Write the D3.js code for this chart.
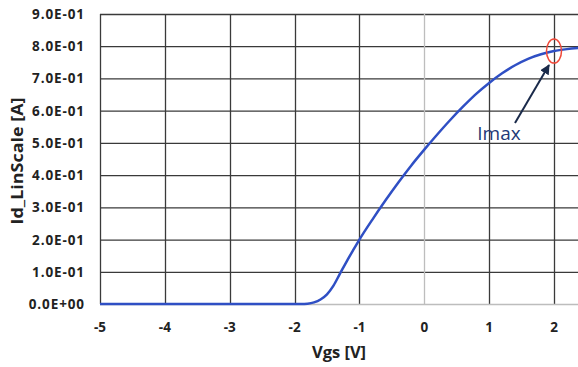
<!DOCTYPE html>
<html><head><meta charset="utf-8">
<script src="https://cdn.jsdelivr.net/npm/d3@7"></script>
<style>
html,body{margin:0;padding:0;background:#fff;overflow:hidden}
text{font-family:"Open Sans","Liberation Sans",sans-serif}
</style></head>
<body><svg id="c" width="578" height="367"></svg>
<script>
const vgs = [-5,-4,-3,-2,-1.9,-1.8,-1.7,-1.6,-1.5,-1.4,-1.3,-1.2,-1.1,-1.0,-0.8,-0.6,-0.4,-0.2,0,0.2,0.4,0.6,0.8,1.0,1.2,1.4,1.6,1.8,2.0,2.2,2.4];
const id  = [0,0,0,0,0,0.001,0.005,0.014,0.03,0.057,0.094,0.131,0.166,0.2,0.262,0.321,0.377,0.43,0.479,0.526,0.571,0.613,0.652,0.686,0.716,0.741,0.761,0.775,0.785,0.791,0.795];
const xTicks = [-5,-4,-3,-2,-1,0,1,2];
const yTicks = [0,0.1,0.2,0.3,0.4,0.5,0.6,0.7,0.8,0.9];
const imax = {x:2.0, y:0.785, label:"Imax"};

const svg = d3.select("#c");
const L=100, T=14, B=304;
const x = d3.scaleLinear().domain([-5,2]).range([L,554]);
const y = d3.scaleLinear().domain([0,0.9]).range([B,T]);
const R = 578;
const fmt = v => v.toExponential(1).toUpperCase().replace(/E([+-])(\d)$/,"E$10$2");

const g = svg.append("g");
g.selectAll(".hg").data(yTicks.filter(v=>v>0)).join("line")
 .attr("x1",L).attr("x2",R).attr("y1",d=>y(d)+0.5).attr("y2",d=>y(d)+0.5)
 .attr("stroke","#3a3a3a").attr("stroke-width",1.3);
g.selectAll(".vg").data(xTicks).join("line")
 .attr("x1",d=>Math.round(x(d))+0.5).attr("x2",d=>Math.round(x(d))+0.5).attr("y1",T).attr("y2",B)
 .attr("stroke",d=>d===0?"#bdbdbd":"#3a3a3a").attr("stroke-width",1.3);
g.append("line").attr("x1",L).attr("x2",R).attr("y1",B+0.5).attr("y2",B+0.5)
 .attr("stroke","#bdbdbd").attr("stroke-width",1.3);

g.selectAll(".yl").data(yTicks).join("text")
 .attr("x",85).attr("y",d=>y(d)+5).attr("text-anchor","end")
 .attr("font-size",13.5).attr("letter-spacing",0.9).attr("font-weight","bold").attr("fill","#222").text(fmt);
g.selectAll(".xl").data(xTicks).join("text")
 .attr("x",d=>x(d)).attr("y",332).attr("text-anchor","middle")
 .attr("font-size",13.5).attr("font-weight","bold").attr("fill","#222").text(d=>d);

svg.append("text").attr("x",339).attr("y",358).attr("text-anchor","middle")
 .attr("font-size",16.5).attr("font-weight","bold").attr("fill","#222").text("Vgs [V]");
svg.append("text").attr("transform","translate(23,161) rotate(-90)").attr("text-anchor","middle")
 .attr("font-size",15.5).attr("textLength",127).attr("lengthAdjust","spacingAndGlyphs")
 .attr("font-weight","bold").attr("fill","#222").text("Id_LinScale [A]");

const line = d3.line().x((d,i)=>x(vgs[i])).y(d=>y(d)).curve(d3.curveMonotoneX);
svg.append("path").datum(id).attr("d",line).attr("fill","none")
 .attr("stroke","#2f4fc4").attr("stroke-width",2.5);

svg.append("ellipse").attr("cx",x(imax.x)).attr("cy",y(imax.y)).attr("rx",7.5).attr("ry",12)
 .attr("fill","none").attr("stroke","#f04a3a").attr("stroke-width",1.5);
svg.append("defs").append("marker").attr("id","ah").attr("viewBox","0 0 10 10")
 .attr("refX",9).attr("refY",5).attr("markerWidth",5).attr("markerHeight",5).attr("orient","auto")
 .append("path").attr("d","M0,0L10,5L0,10z").attr("fill","#1a2a4a");
svg.append("line").attr("x1",515).attr("y1",123).attr("x2",549).attr("y2",65)
 .attr("stroke","#1a2a4a").attr("stroke-width",2).attr("marker-end","url(#ah)");
svg.append("text").attr("x",499).attr("y",140).attr("text-anchor","middle")
 .attr("font-size",19).attr("font-weight",500).attr("fill","#1f3a78").text(imax.label);
</script></body></html>
